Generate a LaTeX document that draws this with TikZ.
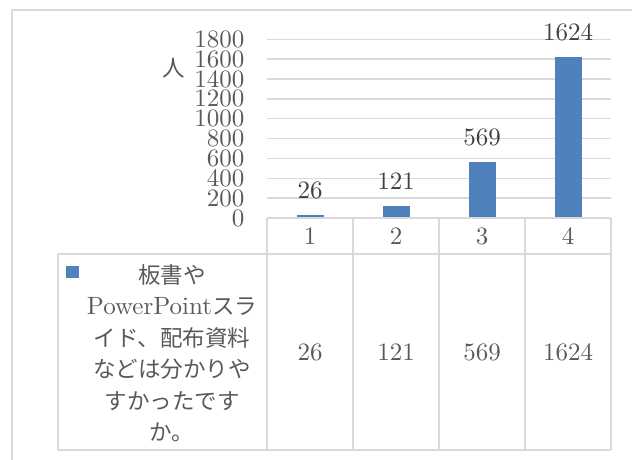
\documentclass[tikz,border=0pt]{standalone}
\usepackage{fontspec}
\setmainfont{lmroman10-regular.otf}
\newfontfamily\cjk[Scale=0.9]{Noto Sans CJK JP}
\definecolor{barblue}{HTML}{4F81BD}
\definecolor{gridgray}{HTML}{D9D9D9}
\definecolor{framegray}{HTML}{D9D9D9}
\definecolor{txtgray}{HTML}{595959}
\definecolor{lblgray}{HTML}{404040}
\tikzset{
  bigfont/.style={font={\fontsize{25}{31.5}\selectfont}},
  gridline/.style={draw=gridgray, line width=1.5pt},
  tableline/.style={draw=gridgray, line width=2pt},
  frameline/.style={draw=framegray, line width=2pt},
  ticklbl/.style={bigfont, text=txtgray, inner sep=0pt, anchor=east},
  datalbl/.style={bigfont, text=lblgray, inner sep=0pt},
  celltxt/.style={bigfont, text=txtgray, inner sep=0pt},
  barbox/.style={fill=barblue, draw=none},
}
\begin{document}
\begin{tikzpicture}[x=1pt,y=-1pt]
\useasboundingbox (0,0) rectangle (632,459);
\clip (0,0) rectangle (632,459);
% outer chart frame (cropped at right and bottom)
\draw[frameline] (12,10) rectangle (660,490);
% gridlines and tick labels
\foreach \v in {200,400,...,1800} {
  \draw[gridline] (267,{218-\v*0.09928}) -- (611,{218-\v*0.09928});
}
\foreach \v in {0,200,...,1800} {
  \node[ticklbl] (tick\v) at (244.5,{218-\v*0.09928}) {\v};
}
\node[bigfont, text=txtgray, inner sep=0pt] (unit) at (174,68) {\cjk 人};
% bars
\foreach \i/\cx/\v in {1/310/26, 2/396/121, 3/482/569, 4/568/1624} {
  \fill[barbox] ({\cx-13.5},218) rectangle ({\cx+13.5},{218-\v*0.09928});
  \node[datalbl] (dl\i) at (\cx,{218-\v*0.09928-24.5}) {\v};
}
% data table lines
\draw[tableline] (267,218) -- (611,218);
\draw[tableline] (57.7,254) -- (611,254);
\draw[tableline] (57.7,450) -- (611,450);
\draw[tableline] (57.7,254) -- (57.7,450);
\foreach \x in {267,353,439,525,611} {
  \draw[tableline] (\x,218) -- (\x,450);
}
% category labels and values
\foreach \i/\cx/\v in {1/310/26, 2/396/121, 3/482/569, 4/568/1624} {
  \node[celltxt] (cat\i) at (\cx,236) {\i};
  \node[celltxt] (val\i) at (\cx,352.5) {\v};
}
% legend cell
\fill[barblue] (66,266) rectangle (79,278);
\node[celltxt, align=center] (legtext) at (172,353)
  {{\cjk 板書や}\\PowerPoint{\cjk スラ}\\{\cjk イド、配布資料}\\{\cjk などは分かりや}\\{\cjk すかったです}\\{\cjk か。}};
\end{tikzpicture}
\end{document}
